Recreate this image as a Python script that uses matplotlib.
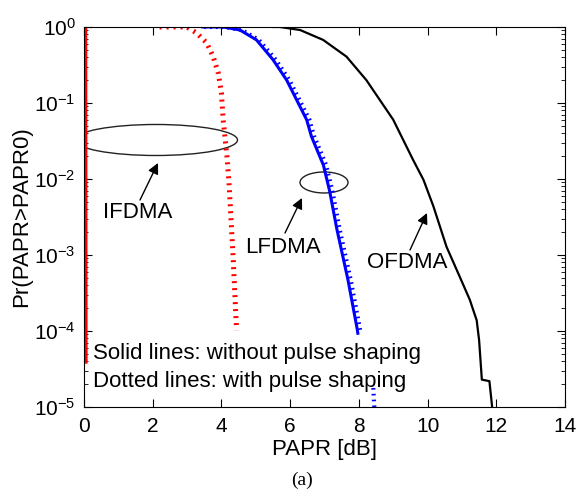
import numpy as np
import matplotlib.pyplot as plt
from matplotlib.patches import Ellipse
from matplotlib.ticker import LogLocator, FuncFormatter, NullFormatter

plt.rcParams['font.family'] = ['Liberation Sans', 'DejaVu Sans']
plt.rcParams['mathtext.fontset'] = 'custom'
plt.rcParams['mathtext.rm'] = 'Liberation Sans'
plt.rcParams['mathtext.it'] = 'Liberation Sans:italic'
plt.rcParams['mathtext.bf'] = 'Liberation Sans:bold'

# PAPR [dB] vs log10 Pr(PAPR>PAPR0)
ifdma_x = [0.05, 0.06]
ifdma_lg = [0.0, -4.41]

ifdma_ps_x = [2.2, 2.99, 3.28, 3.57, 3.76, 3.91, 4.0, 4.05, 4.1, 4.16, 4.22, 4.34, 4.44]
ifdma_ps_lg = [0.0, 0.0, -0.08, -0.21, -0.39, -0.61, -0.87, -1.22, -1.44, -1.7, -2.05, -3.03, -3.99]

lfdma_x = [3.46, 4.05, 4.54, 5.02, 5.5, 5.9, 6.19, 6.48, 6.62, 6.97, 7.15, 7.36, 7.68, 7.95, 7.97]
lfdma_lg = [0.0, 0.0, -0.04, -0.17, -0.43, -0.7, -0.96, -1.22, -1.44, -1.82, -2.16, -2.66, -3.32, -3.97, -4.03]

lfdma_ps_x = [3.5, 4.1, 4.6, 5.09, 5.58, 5.98, 6.27, 6.56, 6.7, 7.05, 7.23, 7.44, 7.76, 8.03, 8.05]
lfdma_ps_lg = [0.0, 0.0, -0.04, -0.17, -0.43, -0.7, -0.96, -1.22, -1.44, -1.82, -2.16, -2.66, -3.32, -3.97, -4.03]

lfdma_ps_tail_x = [8.42, 8.45]
lfdma_ps_tail_lg = [-4.75, -5.0]

ofdma_x = [5.5, 5.7, 6.29, 6.96, 7.64, 8.22, 8.61, 9.0, 9.58, 9.88, 10.17, 10.55,
           10.94, 11.23, 11.43, 11.5, 11.58, 11.8, 11.88, 11.9]
ofdma_lg = [0.0, 0.0, -0.04, -0.17, -0.39, -0.7, -0.96, -1.22, -1.75, -2.01, -2.36, -2.89,
            -3.29, -3.59, -3.86, -4.12, -4.64, -4.66, -5.0, -5.2]

x_ticks = [0, 2, 4, 6, 8, 10, 12, 14]

fig = plt.figure(figsize=(5.79, 4.95), dpi=100)
ax = fig.add_axes([0.1451, 0.1778, 0.8307, 0.7677])

dots = (0, (0.4, 1.0))
ax.semilogy(ifdma_x, 10 ** np.array(ifdma_lg), color='red', lw=2.2)
ax.semilogy(ifdma_ps_x, 10 ** np.array(ifdma_ps_lg), color='red', lw=3.6, ls=dots)
ax.semilogy(lfdma_ps_x, 10 ** np.array(lfdma_ps_lg), color='blue', lw=3.0, ls=dots)
ax.semilogy(lfdma_ps_tail_x, 10 ** np.array(lfdma_ps_tail_lg), color='blue', lw=3.0, ls=dots)
ax.semilogy(lfdma_x, 10 ** np.array(lfdma_lg), color='blue', lw=2.2)
ax.semilogy(ofdma_x, 10 ** np.array(ofdma_lg), color='black', lw=1.6)

ax.set_xlim(0, 14)
ax.set_ylim(1e-5, 1)
ax.set_xticks(x_ticks)
ax.yaxis.set_major_locator(LogLocator(base=10, numticks=10))
ax.yaxis.set_minor_locator(LogLocator(base=10, subs=np.arange(2, 10), numticks=50))
ax.yaxis.set_major_formatter(FuncFormatter(lambda v, p: r'$\mathregular{10^{%d}}$' % round(np.log10(v))))
ax.yaxis.set_minor_formatter(NullFormatter())
ax.tick_params(which='both', direction='in', top=True, right=True, labelsize=15)
ax.tick_params(which='major', length=6, width=0.8)
ax.tick_params(which='minor', length=3, width=0.6)
ax.tick_params(axis='x', pad=7)
ax.tick_params(axis='y', pad=6)

ax.set_xlabel('PAPR [dB]', fontsize=16)
ax.xaxis.set_label_coords(0.5, -0.085)
ax.set_ylabel('Pr(PAPR>PAPR0)', fontsize=16)
ax.yaxis.set_label_coords(-0.108, 0.5)

# annotations
ax.add_patch(Ellipse((0.1497, 0.7026), 0.3389, 0.0816, transform=ax.transAxes,
                     fill=False, ec='#222222', lw=1.0))
ax.add_patch(Ellipse((0.499, 0.5908), 0.0998, 0.0553, transform=ax.transAxes,
                     fill=False, ec='#222222', lw=1.0))

arr = dict(arrowstyle='-|>', color='black', lw=1.0, mutation_scale=16, shrinkA=0, shrinkB=0)
ax.text(0.0395, 0.5105, 'IFDMA', transform=ax.transAxes, fontsize=16, va='center', ha='left')
ax.annotate('', xy=(0.1538, 0.6421), xytext=(0.1164, 0.5447), xycoords='axes fraction', arrowprops=arr)
ax.text(0.3347, 0.421, 'LFDMA', transform=ax.transAxes, fontsize=16, va='center', ha='left')
ax.annotate('', xy=(0.4532, 0.55), xytext=(0.4179, 0.4579), xycoords='axes fraction', arrowprops=arr)
ax.text(0.588, 0.379, 'OFDMA', transform=ax.transAxes, fontsize=16, va='center', ha='left')
ax.annotate('', xy=(0.7131, 0.5105), xytext=(0.6778, 0.4132), xycoords='axes fraction', arrowprops=arr)

ax.text(0.0187, 0.142, 'Solid lines: without pulse shaping', transform=ax.transAxes,
        fontsize=16, va='center', ha='left')
ax.text(0.0187, 0.068, 'Dotted lines: with pulse shaping', transform=ax.transAxes,
        fontsize=16, va='center', ha='left')

fig.text(0.5216, 0.0303, '(a)', family='Liberation Serif', fontsize=14, ha='center', va='center')

fig.savefig('out.png', dpi=100)
